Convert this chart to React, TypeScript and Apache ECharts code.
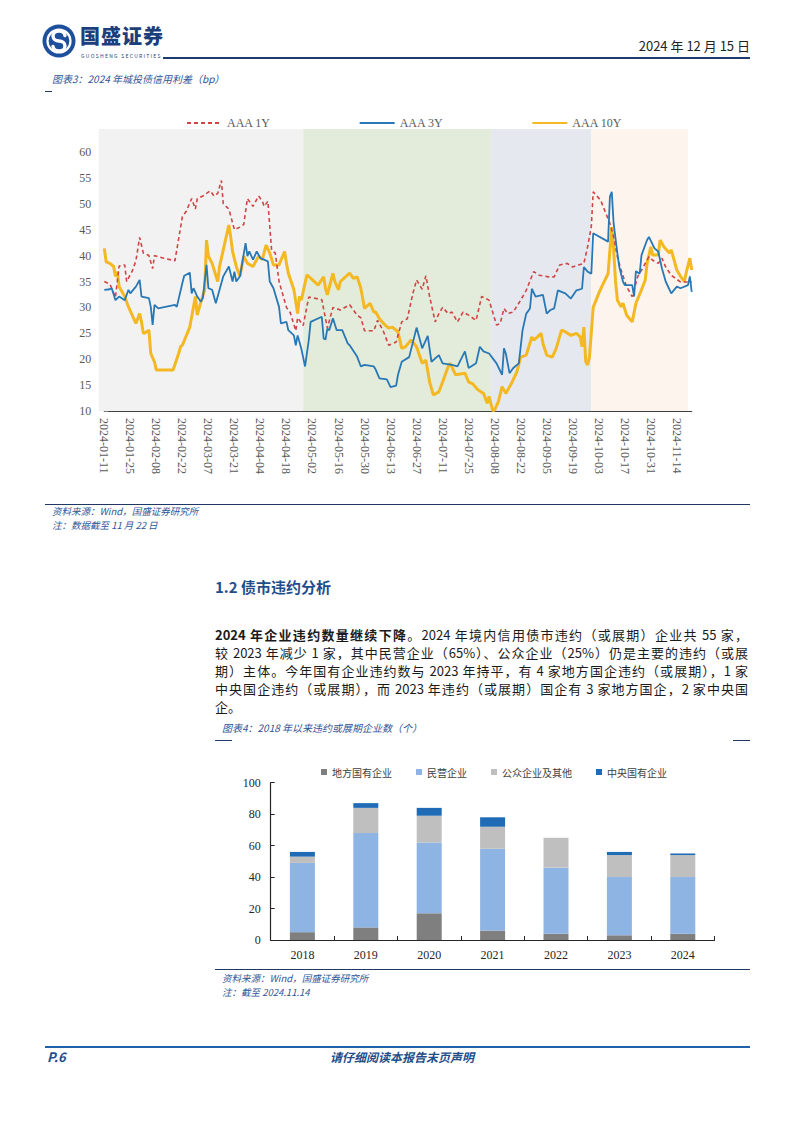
import React, { useEffect, useRef } from "react";
import * as echarts from "echarts";

// ---------- Chart 1 data: day offset since 2024-01-11, spread (bp) ----------
const START_UTC = Date.UTC(2024, 0, 11);
const DAY_MS = 86400000;
const tickStepDays = 14;
const axisEndDay = 316;

const aaa1Y: [number, number][] = [
  [0, 35], [3, 34.5], [6, 32], [8, 38], [11, 38.2], [12, 35], [15, 37], [17, 39], [19, 43.5], [21, 40.5],
  [24, 40], [26, 37.5], [27, 40], [32, 39.5], [38, 39], [42, 47.5], [44, 48.5], [47, 51], [49, 49], [50, 51],
  [53, 51.5], [57, 52.5], [59, 51.5], [61, 52], [63, 54.5], [64, 50], [67, 49], [70, 45], [73, 45.5], [75, 46],
  [77, 51], [80, 49.5], [83, 51.5], [85, 50.5], [86, 49.5], [88, 50.5], [90, 41], [92, 40.5], [94, 35], [98, 30],
  [100, 29], [103, 25.5], [104, 28], [107, 26.5], [110, 32], [117, 31.5], [120, 26], [123, 30], [127, 29.5], [132, 30.5],
  [136, 28.5], [138, 28], [140, 25.5], [145, 25.5], [147, 27.5], [150, 25.5], [153, 22.7], [157, 23.3], [160, 27.2], [163, 27.8],
  [166, 32.7], [168, 35.3], [171, 33.5], [173, 36.1], [175, 32.1], [178, 27.2], [180, 28.8], [182, 30], [185, 28.8], [187, 29.1],
  [190, 27.2], [193, 29.1], [196, 28.5], [200, 27.5], [203, 32.1], [207, 31.4], [211, 26.6], [213, 26.9], [215, 29.8], [217, 28.8],
  [220, 29.1], [224, 31.4], [227, 33.3], [231, 36.9], [234, 36.2], [239, 35.9], [242, 35.9], [245, 38.2], [249, 38.5], [252, 37.8],
  [255, 38.2], [258, 38.5], [260, 41.7], [262, 45.6], [263, 52.3], [267, 50.7], [272, 46.2], [274, 43.6], [276, 39.8], [278, 37.2],
  [281, 34], [284, 32.1], [287, 36], [290, 37.8], [293, 39.8], [295, 39.1], [298, 38.5], [300, 39.5], [302, 37.8], [305, 36.2],
  [310, 34.9], [313, 34.9], [316, 34.9],
];

const aaa3Y: [number, number][] = [
  [0, 33.4], [3, 33.5], [4, 33.7], [6, 31.4], [8, 32.1], [11, 31.4], [13, 33.4], [14, 32.7], [17, 34], [19, 35.3],
  [20, 32.1], [24, 31.8], [25, 30.1], [26, 26.6], [27, 30.5], [29, 29.8], [38, 30.5], [39, 30.1], [42, 34.7], [43, 36.1],
  [46, 36.7], [47, 32.7], [48, 33.7], [50, 32.1], [52, 31.1], [53, 31.8], [55, 38.2], [56, 33.7], [58, 33.4], [60, 30.8],
  [64, 36], [67, 37.9], [69, 35], [70, 36.9], [71, 35], [73, 36], [76, 42.4], [77, 39.9], [78, 40.8], [80, 39.2],
  [82, 40.8], [84, 39.5], [88, 38.9], [89, 35], [91, 33.7], [94, 30.1], [95, 26.9], [98, 27.2], [99, 25.6], [102, 24.6],
  [103, 22.7], [104, 24.6], [106, 22], [108, 18.6], [110, 23.7], [111, 27.2], [117, 28.2], [118, 24], [119, 23.8], [120, 25.9],
  [121, 25.6], [123, 27.9], [125, 25.6], [128, 25.6], [131, 23], [132, 22.7], [136, 20.5], [138, 18.6], [140, 18.9], [145, 18.6],
  [146, 18], [148, 16.3], [152, 16.1], [154, 14.6], [157, 14.9], [158, 17], [160, 19.5], [164, 20.4], [168, 26.1], [171, 22.1],
  [174, 24.5], [176, 19.5], [180, 20.8], [182, 19.2], [187, 18.9], [190, 18.6], [194, 21.5], [196, 18.3], [200, 19.2], [202, 22.4],
  [204, 21.5], [207, 21.1], [211, 19.2], [214, 17], [215, 22.1], [216, 21.1], [218, 17.3], [220, 18.3], [223, 19.2], [225, 25.6],
  [227, 28.8], [229, 29.8], [230, 33.6], [232, 32.1], [236, 32.4], [238, 28.8], [240, 29.5], [242, 29.8], [244, 33.3], [248, 32.7],
  [251, 31.7], [254, 33.3], [257, 33.6], [258, 37.8], [260, 36.9], [262, 36.5], [263, 44.3], [271, 42.7], [272, 51.4], [273, 52.3],
  [274, 46.2], [276, 40.5], [277, 37.9], [279, 35], [280, 34.3], [284, 34.3], [285, 32.1], [286, 37], [288, 36.5], [289, 40.1],
  [292, 43], [293, 43.6], [296, 41.4], [298, 40.8], [300, 37.5], [302, 35], [305, 32.7], [308, 34], [310, 33.7], [314, 34.3],
  [315, 36], [316, 33],
];

const aaa10Y: [number, number][] = [
  [0, 41.4], [1, 38.8], [3, 38.5], [5, 37.9], [6, 36], [7, 36.9], [8, 34], [11, 32.1], [13, 30.1], [15, 28.5],
  [17, 26.9], [19, 28.8], [20, 27.2], [21, 25], [22, 25.1], [24, 25.6], [25, 21.1], [27, 19.5], [28, 17.9], [37, 17.9],
  [40, 21.1], [41, 22.4], [42, 22.7], [46, 26.2], [49, 32.1], [50, 28.5], [52, 31.1], [54, 33.4], [55, 43], [56, 39.9],
  [58, 38.5], [61, 35], [62, 37.9], [64, 41.1], [67, 45.9], [68, 43.6], [69, 40.8], [71, 37.9], [73, 36], [75, 39.9],
  [77, 38.5], [80, 37.9], [83, 39.9], [85, 39.2], [87, 42], [89, 40.5], [91, 38.2], [94, 38.2], [97, 40.8], [98, 38.5],
  [99, 36.6], [102, 33.4], [104, 28.8], [105, 32.1], [106, 31.4], [109, 36.3], [112, 35.3], [115, 34.3], [118, 35.9], [119, 33.7],
  [120, 32.4], [123, 36.6], [124, 35], [126, 33.4], [127, 35], [132, 36.6], [134, 35.6], [136, 35.9], [138, 33.7], [140, 29.8],
  [143, 30.8], [145, 29.1], [146, 29.1], [148, 27.8], [151, 26.6], [153, 26], [155, 26.2], [158, 25.3], [160, 22.1], [162, 22.4],
  [165, 23.7], [168, 22.4], [171, 19.2], [173, 19.8], [175, 15.6], [177, 13.1], [180, 13.7], [182, 15.6], [185, 18.6], [186, 19.2],
  [189, 17], [194, 17.3], [196, 15.6], [198, 15.3], [201, 14.1], [204, 13.4], [206, 11.5], [207, 12.8], [209, 10], [210, 10.2],
  [212, 11.8], [214, 14.7], [216, 13.4], [219, 15.3], [222, 17.6], [224, 20.4], [227, 20.8], [230, 24.3], [231, 23.7], [233, 24.3],
  [235, 25], [236, 23], [238, 20.8], [241, 20.4], [243, 22], [246, 25.6], [248, 25.3], [251, 24.6], [254, 25], [256, 24.3],
  [257, 22.4], [258, 26.2], [259, 19.5], [260, 18.9], [261, 20.4], [263, 30], [266, 32.7], [268, 34.3], [271, 36.5], [273, 45.5],
  [274, 41.2], [275, 35.2], [276, 31.4], [278, 30.1], [279, 30.8], [281, 28.5], [284, 27.2], [286, 30.8], [289, 33.4], [291, 35.3],
  [292, 38.5], [294, 41.7], [295, 40.1], [298, 40.1], [299, 43], [301, 41.7], [304, 40.5], [305, 41.1], [308, 37.2], [310, 36],
  [312, 35], [313, 36.6], [315, 39.5], [316, 37.2],
];

// background period bands (day offsets)
const regionBounds = [-3, 107, 208, 262, 314];
const regionColors = ["#f2f2f2", "#e3ecdb", "#e5e9ef", "#fdf4ee"];

// ---------- Chart 2 data ----------
const years = ["2018", "2019", "2020", "2021", "2022", "2023", "2024"];
const localSOE = [5, 8, 17, 6, 4, 3, 4];
const privateEnt = [44, 60, 45, 52, 42, 37, 36];
const publicEnt = [4, 16, 17, 14, 19, 14, 14];
const centralSOE = [3, 3, 5, 6, 0, 2, 1];

const SERIF = "'Liberation Serif', 'Times New Roman', serif";
const CJK = "'Noto Sans CJK SC', 'Noto Sans', sans-serif";
const BLUE_TXT = "#2f5597";

const dayLabel = (d: number) => new Date(START_UTC + d * DAY_MS).toISOString().slice(0, 10);

function Charts() {
  const ref = useRef<HTMLDivElement>(null);
  useEffect(() => {
    if (!ref.current) return;
    const chart = echarts.init(ref.current, undefined, { renderer: "svg" });
    const bands = regionColors.map((c, i) => [
      { xAxis: regionBounds[i], itemStyle: { color: c } },
      { xAxis: regionBounds[i + 1] },
    ]);
    const axisLbl = { fontFamily: SERIF, fontSize: 12, color: "#595959" };
    chart.setOption({
      animation: false,
      grid: [
        { left: 98.7, top: 129, width: 589.3, height: 282 },
        { left: 104.3, top: 152, width: 587.4, height: 259 },
        { left: 270.7, top: 782.7, width: 443.8, height: 157.3 },
      ],
      legend: [
        {
          data: ["AAA 1Y", "AAA 3Y", "AAA 10Y"],
          left: 181,
          top: 112,
          itemGap: 88,
          itemWidth: 35,
          itemHeight: 10,
          itemStyle: { opacity: 0 },
          textStyle: { fontFamily: SERIF, fontSize: 12, color: "#595959" },
        },
        {
          data: ["地方国有企业", "民营企业", "公众企业及其他", "中央国有企业"],
          left: 316,
          top: 762,
          itemGap: 24,
          itemWidth: 6,
          itemHeight: 6,
          icon: "rect",
          textStyle: { fontFamily: CJK, fontSize: 10, color: "#404040" },
        },
      ],
      xAxis: [
        { gridIndex: 0, type: "value", min: regionBounds[0], max: regionBounds[regionBounds.length - 1], show: false },
        {
          gridIndex: 1,
          type: "value",
          min: 0,
          max: axisEndDay,
          interval: tickStepDays,
          splitLine: { show: false },
          axisLine: { lineStyle: { color: "#404040", width: 1.2 } },
          axisTick: { show: true, inside: true, length: 4, lineStyle: { color: "#404040" } },
          axisLabel: {
            ...axisLbl,
            rotate: -90,
            margin: 7,
            showMaxLabel: false,
            formatter: (v: number) => (v % tickStepDays === 0 ? dayLabel(v) : ""),
          },
        },
        {
          gridIndex: 2,
          type: "category",
          data: years,
          axisLine: { lineStyle: { color: "#262626", width: 1.2 } },
          axisTick: { show: true, inside: true, length: 4, lineStyle: { color: "#262626" } },
          axisLabel: { fontFamily: SERIF, fontSize: 12, color: "#262626", margin: 9 },
        },
      ],
      yAxis: [
        { gridIndex: 0, type: "value", min: 0, max: 1, show: false },
        {
          gridIndex: 1,
          type: "value",
          min: 10,
          max: 60,
          interval: 5,
          splitLine: { show: false },
          axisLine: { show: true, lineStyle: { color: "#7f7f7f", width: 1.5 } },
          axisTick: { show: true, inside: true, length: 4, lineStyle: { color: "#7f7f7f" } },
          axisLabel: { ...axisLbl, margin: 13 },
        },
        {
          gridIndex: 2,
          type: "value",
          min: 0,
          max: 100,
          interval: 20,
          splitLine: { show: false },
          axisLine: { show: true, lineStyle: { color: "#262626", width: 1.2 } },
          axisTick: { show: true, inside: true, length: 4, lineStyle: { color: "#262626" } },
          axisLabel: { fontFamily: SERIF, fontSize: 12, color: "#262626", margin: 10 },
        },
      ],
      series: [
        {
          name: "bands",
          type: "line",
          xAxisIndex: 0,
          yAxisIndex: 0,
          data: [[0, 0]],
          showSymbol: false,
          symbol: "none",
          lineStyle: { width: 0, opacity: 0 },
          silent: true,
          z: 0,
          markArea: { silent: true, data: bands },
        },
        {
          name: "AAA 1Y",
          type: "line",
          xAxisIndex: 1,
          yAxisIndex: 1,
          data: aaa1Y,
          symbol: "none",
          color: "#d04545",
          lineStyle: { color: "#d04545", width: 1.6, type: [4, 3] },
          z: 3,
        },
        {
          name: "AAA 3Y",
          type: "line",
          xAxisIndex: 1,
          yAxisIndex: 1,
          data: aaa3Y,
          symbol: "none",
          color: "#2878b5",
          lineStyle: { color: "#2878b5", width: 1.8 },
          z: 4,
        },
        {
          name: "AAA 10Y",
          type: "line",
          xAxisIndex: 1,
          yAxisIndex: 1,
          data: aaa10Y,
          symbol: "none",
          color: "#f4b823",
          lineStyle: { color: "#f4b823", width: 3 },
          z: 2,
        },
        {
          name: "地方国有企业",
          type: "bar",
          stack: "total",
          xAxisIndex: 2,
          yAxisIndex: 2,
          barWidth: 25,
          data: localSOE,
          itemStyle: { color: "#7f7f7f" },
        },
        {
          name: "民营企业",
          type: "bar",
          stack: "total",
          xAxisIndex: 2,
          yAxisIndex: 2,
          barWidth: 25,
          data: privateEnt,
          itemStyle: { color: "#8eb4e3" },
        },
        {
          name: "公众企业及其他",
          type: "bar",
          stack: "total",
          xAxisIndex: 2,
          yAxisIndex: 2,
          barWidth: 25,
          data: publicEnt,
          itemStyle: { color: "#bfbfbf" },
        },
        {
          name: "中央国有企业",
          type: "bar",
          stack: "total",
          xAxisIndex: 2,
          yAxisIndex: 2,
          barWidth: 25,
          data: centralSOE,
          itemStyle: { color: "#1f6bb5" },
        },
      ],
    });
    return () => chart.dispose();
  }, []);
  return <div ref={ref} style={{ position: "absolute", left: 0, top: 0, width: 794, height: 1123 }} />;
}

const abs = (s: React.CSSProperties): React.CSSProperties => ({ position: "absolute", whiteSpace: "nowrap", ...s });
const hline = (left: number, top: number, width: number, h: number, color: string) => (
  <div style={abs({ left, top, width, height: h, background: color })} />
);

const paraLines = [
  "较 2023 年减少 1 家，其中民营企业（65%）、公众企业（25%）仍是主要的违约（或展",
  "期）主体。今年国有企业违约数与 2023 年持平，有 4 家地方国企违约（或展期），1 家",
  "中央国企违约（或展期），而 2023 年违约（或展期）国企有 3 家地方国企，2 家中央国",
];

export default function App() {
  const cap: React.CSSProperties = { fontFamily: CJK, fontStyle: "italic", fontSize: 10, color: BLUE_TXT };
  const src: React.CSSProperties = { fontFamily: CJK, fontStyle: "italic", fontSize: 9.5, color: BLUE_TXT };
  const para: React.CSSProperties = {
    position: "absolute",
    left: 215,
    width: 533,
    fontFamily: CJK,
    fontSize: 13,
    lineHeight: "18px",
    color: "#1a1a1a",
    textAlign: "justify",
    textAlignLast: "justify",
    whiteSpace: "nowrap",
  };
  return (
    <div style={{ position: "absolute", left: 0, top: 0, width: 794, height: 1123, background: "#fff", overflow: "hidden" }}>
      <Charts />
      {/* header */}
      <svg style={{ position: "absolute", left: 42, top: 24 }} width={34} height={34} viewBox="0 0 34 34">
        <circle cx={17} cy={17} r={16.5} fill="#1d4f9c" />
        <circle cx={17} cy={17} r={11.5} fill="none" stroke="#fff" strokeWidth={2.2} />
        <path d="M23 11.5 A6 5 0 1 0 17 17 A6 5 0 1 1 11 22.5" fill="none" stroke="#fff" strokeWidth={3.4} strokeLinecap="round" />
      </svg>
      <div style={abs({ left: 80, top: 25, fontFamily: CJK, fontWeight: 900, fontSize: 20, lineHeight: "22px", color: "#1c3f7c", letterSpacing: 1 })}>国盛证券</div>
      <div style={abs({ left: 81, top: 53, fontFamily: CJK, fontSize: 5, lineHeight: "5px", color: "#1c3f7c", letterSpacing: 1.3 })}>GUOSHENG SECURITIES</div>
      {hline(163, 57, 587, 1.5, "#1f3c6e")}
      <div style={abs({ right: 44, top: 37, fontFamily: CJK, fontSize: 13, lineHeight: "18px", color: "#222" })}>2024 年 12 月 15 日</div>

      {/* chart 1 caption */}
      <div style={abs({ ...cap, left: 52, top: 72, lineHeight: "14px" })}>图表3：2024 年城投债信用利差（bp）</div>
      {hline(45, 91, 7, 1, "#1f3864")}
      {hline(45, 504, 705, 1, "#1f3864")}
      <div style={abs({ ...src, left: 52, top: 505, lineHeight: "13px" })}>资料来源：Wind，国盛证券研究所</div>
      <div style={abs({ ...src, left: 52, top: 519, lineHeight: "13px" })}>注：数据截至 11 月 22 日</div>

      {/* section */}
      <div style={abs({ left: 215, top: 577, fontFamily: CJK, fontWeight: 700, fontSize: 15, lineHeight: "20px", color: "#1f4e8c" })}>1.2 债市违约分析</div>
      <div style={{ ...para, top: 626 }}>
        <b>2024 年企业违约数量继续下降</b>。2024 年境内信用债市违约（或展期）企业共 55 家，
      </div>
      {paraLines.map((t, i) => (
        <div key={i} style={{ ...para, top: 644 + i * 18 }}>{t}</div>
      ))}
      <div style={{ ...para, top: 698, textAlignLast: "left" }}>企。</div>

      {/* chart 2 caption */}
      <div style={abs({ ...cap, left: 222, top: 721, lineHeight: "14px" })}>图表4：2018 年以来违约或展期企业数（个）</div>
      {hline(215, 740, 17, 1, "#1f3864")}
      {hline(733, 740, 17, 1, "#1f3864")}
      {hline(215, 969, 535, 1, "#1f3864")}
      <div style={abs({ ...src, left: 222, top: 972, lineHeight: "13px" })}>资料来源：Wind，国盛证券研究所</div>
      <div style={abs({ ...src, left: 222, top: 986, lineHeight: "13px" })}>注：截至 2024.11.14</div>

      {/* footer */}
      {hline(45, 1046, 705, 1.5, "#2060a8")}
      <div style={abs({ left: 47, top: 1048, fontFamily: CJK, fontWeight: 700, fontStyle: "italic", fontSize: 13, lineHeight: "18px", color: "#1f4e8c" })}>P.6</div>
      <div style={abs({ left: 0, width: 804, textAlign: "center", top: 1048, fontFamily: CJK, fontWeight: 700, fontStyle: "italic", fontSize: 12, lineHeight: "18px", color: "#1f4e8c" })}>请仔细阅读本报告末页声明</div>
    </div>
  );
}
